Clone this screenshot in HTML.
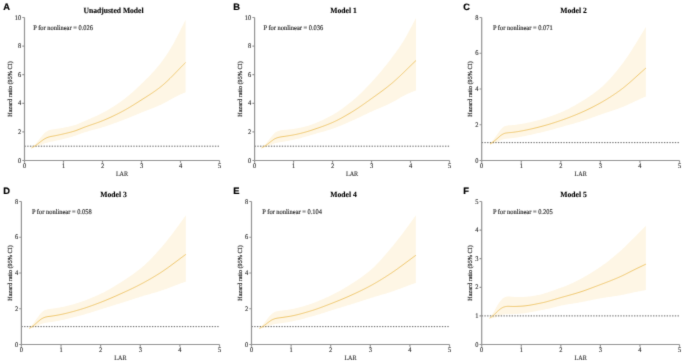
<!DOCTYPE html>
<html><head><meta charset="utf-8"><style>
html,body{margin:0;padding:0;background:#fff;width:685px;height:362px;overflow:hidden}
svg{display:block}
text{fill:#1c1c1c;stroke:#1c1c1c;text-rendering:geometricPrecision}
.t{font-family:"Liberation Serif",serif;font-size:7.0px;stroke-width:0.1px}
.lar{font-family:"Liberation Serif",serif;font-size:6.8px;stroke-width:0.1px}
.yl{font-family:"Liberation Serif",serif;font-size:6.2px;stroke-width:0.18px}
.pn{font-family:"Liberation Serif",serif;font-size:7.0px;stroke-width:0.14px}
.ti{font-family:"Liberation Serif",serif;font-size:8.0px;font-weight:bold;stroke-width:0.12px;fill:#000;stroke:#000}
.lt{font-family:"Liberation Sans",sans-serif;font-size:9.3px;font-weight:bold;stroke-width:0.2px;fill:#000;stroke:#000}
</style></head><body>
<svg width="685" height="362" viewBox="0 0 685 362"><defs><filter id="bl" x="0" y="0" width="685" height="362" filterUnits="userSpaceOnUse" color-interpolation-filters="sRGB"><feConvolveMatrix order="3" kernelMatrix="0.0113 0.0838 0.0113 0.0838 0.6193 0.0838 0.0113 0.0838 0.0113" edgeMode="none"/></filter></defs><g filter="url(#bl)"><rect width="685" height="362" fill="#fff"/><g><polygon points="31.52,147.92 32.49,146.99 33.46,146.03 34.43,145.02 35.4,143.98 36.36,142.9 37.33,141.74 38.3,140.52 39.27,139.26 40.24,138.04 41.21,136.88 42.18,135.71 43.15,134.56 44.12,133.5 45.08,132.61 46.05,131.88 47.02,131.25 47.99,130.71 48.96,130.3 49.93,129.97 50.9,129.72 51.87,129.55 52.84,129.41 53.8,129.29 54.77,129.17 55.74,129.02 56.71,128.85 57.68,128.69 58.65,128.54 59.62,128.38 60.59,128.22 61.55,128.06 62.52,127.88 63.49,127.69 64.46,127.49 65.43,127.29 66.4,127.09 67.37,126.89 68.34,126.69 69.31,126.48 70.27,126.27 71.24,126.04 72.21,125.8 73.18,125.55 74.15,125.27 75.12,124.98 76.09,124.65 77.06,124.29 78.03,123.92 78.99,123.52 79.96,123.11 80.93,122.7 81.9,122.27 82.87,121.84 83.84,121.41 84.81,120.98 85.78,120.56 86.75,120.14 87.71,119.72 88.68,119.3 89.65,118.88 90.62,118.47 91.59,118.04 92.56,117.62 93.53,117.19 94.5,116.76 95.47,116.32 96.43,115.88 97.4,115.43 98.37,114.97 99.34,114.5 100.31,114.03 101.28,113.54 102.25,113.04 103.22,112.53 104.19,112.01 105.15,111.48 106.12,110.94 107.09,110.39 108.06,109.83 109.03,109.27 110,108.69 110.97,108.11 111.94,107.51 112.9,106.91 113.87,106.29 114.84,105.67 115.81,105.04 116.78,104.39 117.75,103.74 118.72,103.08 119.69,102.41 120.66,101.73 121.62,101.04 122.59,100.33 123.56,99.61 124.53,98.88 125.5,98.12 126.47,97.35 127.44,96.56 128.41,95.76 129.38,94.94 130.34,94.11 131.31,93.27 132.28,92.41 133.25,91.54 134.22,90.66 135.19,89.77 136.16,88.88 137.13,87.97 138.1,87.06 139.06,86.14 140.03,85.21 141,84.29 141.97,83.35 142.94,82.42 143.91,81.47 144.88,80.53 145.85,79.57 146.82,78.61 147.78,77.63 148.75,76.65 149.72,75.65 150.69,74.64 151.66,73.61 152.63,72.57 153.6,71.51 154.57,70.43 155.54,69.33 156.5,68.21 157.47,67.06 158.44,65.89 159.41,64.7 160.38,63.48 161.35,62.23 162.32,60.94 163.29,59.62 164.25,58.26 165.22,56.87 166.19,55.44 167.16,53.97 168.13,52.47 169.1,50.93 170.07,49.35 171.04,47.74 172.01,46.09 172.97,44.41 173.94,42.67 174.91,40.9 175.88,39.08 176.85,37.22 177.82,35.33 178.79,33.42 179.76,31.49 180.73,29.55 181.69,27.59 182.66,25.63 183.63,23.68 184.6,21.74 185.57,19.82 185.57,92.3 184.6,92.69 183.63,93.09 182.66,93.5 181.69,93.92 180.73,94.34 179.76,94.77 178.79,95.22 177.82,95.68 176.85,96.15 175.88,96.63 174.91,97.12 173.94,97.63 172.97,98.16 172.01,98.69 171.04,99.24 170.07,99.78 169.1,100.33 168.13,100.88 167.16,101.42 166.19,101.96 165.22,102.48 164.25,103 163.29,103.5 162.32,103.99 161.35,104.46 160.38,104.91 159.41,105.35 158.44,105.78 157.47,106.2 156.5,106.61 155.54,107.02 154.57,107.42 153.6,107.81 152.63,108.2 151.66,108.58 150.69,108.96 149.72,109.34 148.75,109.71 147.78,110.09 146.82,110.46 145.85,110.84 144.88,111.22 143.91,111.6 142.94,111.98 141.97,112.37 141,112.77 140.03,113.17 139.06,113.56 138.1,113.96 137.13,114.36 136.16,114.76 135.19,115.16 134.22,115.56 133.25,115.96 132.28,116.36 131.31,116.76 130.34,117.16 129.38,117.55 128.41,117.94 127.44,118.33 126.47,118.72 125.5,119.1 124.53,119.48 123.56,119.86 122.59,120.23 121.62,120.6 120.66,120.97 119.69,121.33 118.72,121.69 117.75,122.05 116.78,122.41 115.81,122.76 114.84,123.12 113.87,123.46 112.9,123.81 111.94,124.15 110.97,124.49 110,124.83 109.03,125.16 108.06,125.49 107.09,125.81 106.12,126.13 105.15,126.45 104.19,126.76 103.22,127.07 102.25,127.37 101.28,127.67 100.31,127.95 99.34,128.23 98.37,128.5 97.4,128.77 96.43,129.03 95.47,129.29 94.5,129.55 93.53,129.8 92.56,130.06 91.59,130.32 90.62,130.58 89.65,130.84 88.68,131.11 87.71,131.39 86.75,131.67 85.78,131.96 84.81,132.26 83.84,132.57 82.87,132.91 81.9,133.25 80.93,133.61 79.96,133.97 78.99,134.33 78.03,134.69 77.06,135.05 76.09,135.39 75.12,135.73 74.15,136.04 73.18,136.34 72.21,136.63 71.24,136.91 70.27,137.19 69.31,137.45 68.34,137.71 67.37,137.97 66.4,138.22 65.43,138.46 64.46,138.7 63.49,138.94 62.52,139.18 61.55,139.42 60.59,139.66 59.62,139.9 58.65,140.14 57.68,140.37 56.71,140.6 55.74,140.82 54.77,141.03 53.8,141.23 52.84,141.43 51.87,141.62 50.9,141.8 49.93,141.98 48.96,142.17 47.99,142.39 47.02,142.66 46.05,142.97 45.08,143.3 44.12,143.62 43.15,143.99 42.18,144.38 41.21,144.79 40.24,145.2 39.27,145.61 38.3,146.01 37.33,146.4 36.36,146.75 35.4,147.03 34.43,147.26 33.46,147.46 32.49,147.67 31.52,147.92" fill="#fef6e5"/><line x1="24.5" y1="146.2" x2="219.5" y2="146.2" stroke="#505050" stroke-width="0.9" stroke-dasharray="1.36 1.36"/><polyline points="31.52,147.92 32.49,147.33 33.46,146.76 34.43,146.19 35.4,145.59 36.36,144.94 37.33,144.24 38.3,143.49 39.27,142.72 40.24,141.96 41.21,141.24 42.18,140.51 43.15,139.8 44.12,139.15 45.08,138.6 46.05,138.1 47.02,137.65 47.99,137.27 48.96,136.97 49.93,136.72 50.9,136.51 51.87,136.32 52.84,136.15 53.8,135.98 54.77,135.8 55.74,135.61 56.71,135.4 57.68,135.2 58.65,134.99 59.62,134.78 60.59,134.57 61.55,134.35 62.52,134.13 63.49,133.9 64.46,133.67 65.43,133.45 66.4,133.21 67.37,132.98 68.34,132.74 69.31,132.5 70.27,132.25 71.24,131.99 72.21,131.72 73.18,131.44 74.15,131.15 75.12,130.83 76.09,130.5 77.06,130.14 78.03,129.78 78.99,129.39 79.96,129.01 80.93,128.62 81.9,128.22 82.87,127.84 83.84,127.46 84.81,127.09 85.78,126.74 86.75,126.39 87.71,126.04 88.68,125.7 89.65,125.37 90.62,125.03 91.59,124.7 92.56,124.37 93.53,124.04 94.5,123.7 95.47,123.37 96.43,123.03 97.4,122.68 98.37,122.33 99.34,121.97 100.31,121.61 101.28,121.23 102.25,120.85 103.22,120.45 104.19,120.05 105.15,119.64 106.12,119.23 107.09,118.81 108.06,118.38 109.03,117.95 110,117.51 110.97,117.07 111.94,116.61 112.9,116.16 113.87,115.69 114.84,115.23 115.81,114.75 116.78,114.27 117.75,113.79 118.72,113.29 119.69,112.8 120.66,112.3 121.62,111.79 122.59,111.28 123.56,110.76 124.53,110.22 125.5,109.68 126.47,109.13 127.44,108.57 128.41,108.01 129.38,107.44 130.34,106.86 131.31,106.27 132.28,105.68 133.25,105.08 134.22,104.48 135.19,103.87 136.16,103.27 137.13,102.65 138.1,102.04 139.06,101.42 140.03,100.81 141,100.19 141.97,99.57 142.94,98.95 143.91,98.33 144.88,97.72 145.85,97.1 146.82,96.49 147.78,95.87 148.75,95.24 149.72,94.61 150.69,93.98 151.66,93.33 152.63,92.68 153.6,92.02 154.57,91.35 155.54,90.67 156.5,89.98 157.47,89.27 158.44,88.55 159.41,87.81 160.38,87.06 161.35,86.29 162.32,85.49 163.29,84.67 164.25,83.83 165.22,82.96 166.19,82.07 167.16,81.17 168.13,80.24 169.1,79.3 170.07,78.35 171.04,77.39 172.01,76.41 172.97,75.43 173.94,74.43 174.91,73.44 175.88,72.43 176.85,71.43 177.82,70.42 178.79,69.42 179.76,68.42 180.73,67.42 181.69,66.43 182.66,65.44 183.63,64.46 184.6,63.5 185.57,62.55" fill="none" stroke="#ecbf5a" stroke-width="0.85"/><path d="M24.5 17.5V160.5H219.5M22.3 160.5H24.5M22.3 131.9H24.5M22.3 103.3H24.5M22.3 74.7H24.5M22.3 46.1H24.5M22.3 17.5H24.5M24.5 160.5V162.7M63.5 160.5V162.7M102.5 160.5V162.7M141.5 160.5V162.7M180.5 160.5V162.7M219.5 160.5V162.7" fill="none" stroke="#949494" stroke-width="1.2"/><text transform="translate(21.2 162.6) scale(0.92 1)" text-anchor="end" class="t">0</text><text transform="translate(21.2 134) scale(0.92 1)" text-anchor="end" class="t">2</text><text transform="translate(21.2 105.4) scale(0.92 1)" text-anchor="end" class="t">4</text><text transform="translate(21.2 76.8) scale(0.92 1)" text-anchor="end" class="t">6</text><text transform="translate(21.2 48.2) scale(0.92 1)" text-anchor="end" class="t">8</text><text transform="translate(21.2 19.6) scale(0.92 1)" text-anchor="end" class="t">10</text><text transform="translate(24.5 168.2) scale(0.92 1)" text-anchor="middle" class="t">0</text><text transform="translate(63.5 168.2) scale(0.92 1)" text-anchor="middle" class="t">1</text><text transform="translate(102.5 168.2) scale(0.92 1)" text-anchor="middle" class="t">2</text><text transform="translate(141.5 168.2) scale(0.92 1)" text-anchor="middle" class="t">3</text><text transform="translate(180.5 168.2) scale(0.92 1)" text-anchor="middle" class="t">4</text><text transform="translate(219.5 168.2) scale(0.92 1)" text-anchor="middle" class="t">5</text><text transform="translate(122 175.8) scale(0.9 1)" text-anchor="middle" class="lar">LAR</text><text transform="translate(11.7 89) rotate(-90)" text-anchor="middle" class="yl">Hazard ratio (95% CI)</text><text transform="translate(113.5 12.9) scale(0.95 1)" text-anchor="middle" class="ti">Unadjusted Model</text><text transform="translate(33.2 29.9) scale(0.92 1)" class="pn">P for nonlinear = 0.026</text><text transform="translate(3.2 9.8)" class="lt">A</text></g><g><polygon points="261.62,147.92 262.59,146.99 263.56,146.02 264.53,145.02 265.5,143.97 266.47,142.89 267.44,141.73 268.41,140.49 269.38,139.24 270.35,138.01 271.32,136.85 272.3,135.66 273.27,134.48 274.24,133.43 275.21,132.61 276.18,131.97 277.15,131.45 278.12,131.01 279.09,130.67 280.06,130.41 281.03,130.21 282,130.08 282.97,129.99 283.95,129.92 284.92,129.84 285.89,129.74 286.86,129.63 287.83,129.54 288.8,129.45 289.77,129.36 290.74,129.27 291.71,129.17 292.68,129.05 293.65,128.91 294.62,128.75 295.6,128.59 296.57,128.42 297.54,128.25 298.51,128.06 299.48,127.87 300.45,127.67 301.42,127.47 302.39,127.25 303.36,127.03 304.33,126.8 305.3,126.55 306.27,126.29 307.25,126.01 308.22,125.72 309.19,125.41 310.16,125.09 311.13,124.75 312.1,124.41 313.07,124.04 314.04,123.67 315.01,123.29 315.98,122.89 316.95,122.5 317.92,122.09 318.89,121.68 319.87,121.26 320.84,120.83 321.81,120.4 322.78,119.96 323.75,119.51 324.72,119.05 325.69,118.58 326.66,118.1 327.63,117.61 328.6,117.11 329.57,116.6 330.54,116.08 331.52,115.55 332.49,115 333.46,114.44 334.43,113.87 335.4,113.28 336.37,112.67 337.34,112.05 338.31,111.41 339.28,110.76 340.25,110.09 341.22,109.42 342.19,108.72 343.17,108.02 344.14,107.31 345.11,106.58 346.08,105.84 347.05,105.1 348.02,104.34 348.99,103.58 349.96,102.8 350.93,102.02 351.9,101.24 352.87,100.44 353.84,99.62 354.82,98.78 355.79,97.92 356.76,97.05 357.73,96.16 358.7,95.25 359.67,94.33 360.64,93.4 361.61,92.45 362.58,91.49 363.55,90.51 364.52,89.53 365.49,88.54 366.47,87.53 367.44,86.52 368.41,85.5 369.38,84.48 370.35,83.45 371.32,82.41 372.29,81.37 373.26,80.32 374.23,79.25 375.2,78.17 376.17,77.07 377.14,75.96 378.12,74.84 379.09,73.7 380.06,72.55 381.03,71.39 382,70.22 382.97,69.03 383.94,67.83 384.91,66.62 385.88,65.4 386.85,64.17 387.82,62.92 388.79,61.67 389.76,60.42 390.74,59.15 391.71,57.88 392.68,56.6 393.65,55.31 394.62,54.01 395.59,52.69 396.56,51.36 397.53,50.01 398.5,48.63 399.47,47.23 400.44,45.79 401.41,44.33 402.39,42.83 403.36,41.28 404.33,39.67 405.3,38.02 406.27,36.31 407.24,34.56 408.21,32.77 409.18,30.96 410.15,29.11 411.12,27.25 412.09,25.38 413.06,23.51 414.04,21.64 415.01,19.78 415.98,17.94 415.98,90.41 415.01,90.79 414.04,91.17 413.06,91.55 412.09,91.94 411.12,92.33 410.15,92.72 409.18,93.13 408.21,93.55 407.24,93.99 406.27,94.44 405.3,94.91 404.33,95.41 403.36,95.92 402.39,96.46 401.41,97.02 400.44,97.58 399.47,98.16 398.5,98.74 397.53,99.31 396.56,99.89 395.59,100.46 394.62,101.02 393.65,101.57 392.68,102.1 391.71,102.62 390.74,103.12 389.76,103.6 388.79,104.06 387.82,104.52 386.85,104.96 385.88,105.4 384.91,105.82 383.94,106.24 382.97,106.65 382,107.06 381.03,107.47 380.06,107.88 379.09,108.28 378.12,108.69 377.14,109.09 376.17,109.51 375.2,109.92 374.23,110.34 373.26,110.77 372.29,111.21 371.32,111.65 370.35,112.1 369.38,112.55 368.41,113.01 367.44,113.47 366.47,113.93 365.49,114.39 364.52,114.86 363.55,115.32 362.58,115.78 361.61,116.25 360.64,116.71 359.67,117.17 358.7,117.63 357.73,118.09 356.76,118.55 355.79,119 354.82,119.45 353.84,119.89 352.87,120.33 351.9,120.76 350.93,121.19 349.96,121.62 348.99,122.05 348.02,122.48 347.05,122.91 346.08,123.33 345.11,123.75 344.14,124.17 343.17,124.59 342.19,125 341.22,125.41 340.25,125.81 339.28,126.2 338.31,126.59 337.34,126.97 336.37,127.35 335.4,127.71 334.43,128.07 333.46,128.42 332.49,128.75 331.52,129.08 330.54,129.4 329.57,129.71 328.6,130.01 327.63,130.31 326.66,130.6 325.69,130.89 324.72,131.17 323.75,131.45 322.78,131.72 321.81,132 320.84,132.27 319.87,132.54 318.89,132.81 317.92,133.08 316.95,133.36 315.98,133.63 315.01,133.91 314.04,134.19 313.07,134.48 312.1,134.77 311.13,135.07 310.16,135.36 309.19,135.66 308.22,135.95 307.25,136.25 306.27,136.53 305.3,136.81 304.33,137.09 303.36,137.36 302.39,137.62 301.42,137.88 300.45,138.13 299.48,138.38 298.51,138.63 297.54,138.86 296.57,139.09 295.6,139.32 294.62,139.53 293.65,139.74 292.68,139.94 291.71,140.13 290.74,140.33 289.77,140.52 288.8,140.71 287.83,140.9 286.86,141.08 285.89,141.26 284.92,141.44 283.95,141.61 282.97,141.78 282,141.94 281.03,142.1 280.06,142.25 279.09,142.4 278.12,142.57 277.15,142.78 276.18,143.03 275.21,143.31 274.24,143.59 273.27,143.95 272.3,144.36 271.32,144.78 270.35,145.19 269.38,145.6 268.41,146.01 267.44,146.4 266.47,146.74 265.5,147.03 264.53,147.26 263.56,147.46 262.59,147.67 261.62,147.92" fill="#fef6e5"/><line x1="254.6" y1="146.2" x2="449.5" y2="146.2" stroke="#505050" stroke-width="0.9" stroke-dasharray="1.36 1.36"/><polyline points="261.62,147.92 262.59,147.33 263.56,146.76 264.53,146.18 265.5,145.58 266.47,144.93 267.44,144.23 268.41,143.47 269.38,142.7 270.35,141.94 271.32,141.22 272.3,140.48 273.27,139.75 274.24,139.11 275.21,138.6 276.18,138.18 277.15,137.81 278.12,137.5 279.09,137.26 280.06,137.06 281.03,136.89 282,136.74 282.97,136.6 283.95,136.47 284.92,136.33 285.89,136.17 286.86,136.02 287.83,135.86 288.8,135.71 289.77,135.56 290.74,135.4 291.71,135.24 292.68,135.07 293.65,134.89 294.62,134.7 295.6,134.5 296.57,134.3 297.54,134.08 298.51,133.86 299.48,133.64 300.45,133.4 301.42,133.16 302.39,132.92 303.36,132.67 304.33,132.41 305.3,132.14 306.27,131.87 307.25,131.58 308.22,131.28 309.19,130.98 310.16,130.66 311.13,130.35 312.1,130.03 313.07,129.7 314.04,129.37 315.01,129.04 315.98,128.71 316.95,128.38 317.92,128.05 318.89,127.71 319.87,127.38 320.84,127.04 321.81,126.69 322.78,126.34 323.75,125.99 324.72,125.63 325.69,125.27 326.66,124.89 327.63,124.52 328.6,124.13 329.57,123.73 330.54,123.33 331.52,122.92 332.49,122.49 333.46,122.06 334.43,121.61 335.4,121.15 336.37,120.68 337.34,120.2 338.31,119.7 339.28,119.2 340.25,118.68 341.22,118.16 342.19,117.63 343.17,117.09 344.14,116.54 345.11,115.99 346.08,115.43 347.05,114.86 348.02,114.29 348.99,113.72 349.96,113.14 350.93,112.55 351.9,111.97 352.87,111.38 353.84,110.78 354.82,110.16 355.79,109.54 356.76,108.91 357.73,108.26 358.7,107.61 359.67,106.96 360.64,106.29 361.61,105.62 362.58,104.95 363.55,104.27 364.52,103.58 365.49,102.9 366.47,102.21 367.44,101.51 368.41,100.82 369.38,100.13 370.35,99.43 371.32,98.74 372.29,98.05 373.26,97.35 374.23,96.66 375.2,95.97 376.17,95.27 377.14,94.58 378.12,93.88 379.09,93.18 380.06,92.47 381.03,91.76 382,91.04 382.97,90.32 383.94,89.59 384.91,88.85 385.88,88.11 386.85,87.35 387.82,86.59 388.79,85.82 389.76,85.03 390.74,84.24 391.71,83.43 392.68,82.61 393.65,81.77 394.62,80.91 395.59,80.05 396.56,79.17 397.53,78.28 398.5,77.38 399.47,76.47 400.44,75.55 401.41,74.62 402.39,73.69 403.36,72.76 404.33,71.82 405.3,70.87 406.27,69.92 407.24,68.98 408.21,68.03 409.18,67.08 410.15,66.13 411.12,65.19 412.09,64.25 413.06,63.31 414.04,62.38 415.01,61.46 415.98,60.54" fill="none" stroke="#ecbf5a" stroke-width="0.85"/><path d="M254.6 17.5V160.5H449.5M252.4 160.5H254.6M252.4 131.9H254.6M252.4 103.3H254.6M252.4 74.7H254.6M252.4 46.1H254.6M252.4 17.5H254.6M254.6 160.5V162.7M293.58 160.5V162.7M332.56 160.5V162.7M371.54 160.5V162.7M410.52 160.5V162.7M449.5 160.5V162.7" fill="none" stroke="#949494" stroke-width="1.2"/><text transform="translate(251.3 162.6) scale(0.92 1)" text-anchor="end" class="t">0</text><text transform="translate(251.3 134) scale(0.92 1)" text-anchor="end" class="t">2</text><text transform="translate(251.3 105.4) scale(0.92 1)" text-anchor="end" class="t">4</text><text transform="translate(251.3 76.8) scale(0.92 1)" text-anchor="end" class="t">6</text><text transform="translate(251.3 48.2) scale(0.92 1)" text-anchor="end" class="t">8</text><text transform="translate(251.3 19.6) scale(0.92 1)" text-anchor="end" class="t">10</text><text transform="translate(254.6 168.2) scale(0.92 1)" text-anchor="middle" class="t">0</text><text transform="translate(293.58 168.2) scale(0.92 1)" text-anchor="middle" class="t">1</text><text transform="translate(332.56 168.2) scale(0.92 1)" text-anchor="middle" class="t">2</text><text transform="translate(371.54 168.2) scale(0.92 1)" text-anchor="middle" class="t">3</text><text transform="translate(410.52 168.2) scale(0.92 1)" text-anchor="middle" class="t">4</text><text transform="translate(449.5 168.2) scale(0.92 1)" text-anchor="middle" class="t">5</text><text transform="translate(352.05 175.8) scale(0.9 1)" text-anchor="middle" class="lar">LAR</text><text transform="translate(241.7 89) rotate(-90)" text-anchor="middle" class="yl">Hazard ratio (95% CI)</text><text transform="translate(343.5 12.9) scale(0.95 1)" text-anchor="middle" class="ti">Model 1</text><text transform="translate(263.5 29.9) scale(0.92 1)" class="pn">P for nonlinear = 0.036</text><text transform="translate(233.2 9.8)" class="lt">B</text></g><g><polygon points="490.01,143.87 490.99,142.67 491.97,141.43 492.95,140.15 493.93,138.88 494.91,137.55 495.89,136.18 496.87,134.79 497.85,133.45 498.83,132.14 499.81,130.76 500.79,129.46 501.77,128.43 502.75,127.56 503.73,126.83 504.71,126.27 505.69,125.9 506.67,125.66 507.65,125.48 508.63,125.37 509.61,125.29 510.59,125.23 511.57,125.18 512.55,125.1 513.53,125 514.51,124.89 515.5,124.77 516.48,124.64 517.46,124.51 518.44,124.37 519.42,124.23 520.4,124.08 521.38,123.91 522.36,123.74 523.34,123.56 524.32,123.38 525.3,123.2 526.28,123.01 527.26,122.81 528.24,122.61 529.22,122.4 530.2,122.19 531.18,121.97 532.16,121.74 533.14,121.51 534.12,121.28 535.1,121.04 536.08,120.79 537.06,120.53 538.04,120.27 539.02,120 540,119.73 540.98,119.45 541.96,119.16 542.94,118.86 543.92,118.56 544.9,118.25 545.88,117.94 546.86,117.62 547.84,117.29 548.83,116.96 549.81,116.62 550.79,116.27 551.77,115.92 552.75,115.56 553.73,115.2 554.71,114.83 555.69,114.46 556.67,114.08 557.65,113.7 558.63,113.31 559.61,112.91 560.59,112.51 561.57,112.11 562.55,111.69 563.53,111.25 564.51,110.8 565.49,110.34 566.47,109.87 567.45,109.39 568.43,108.89 569.41,108.39 570.39,107.87 571.37,107.34 572.35,106.81 573.33,106.27 574.31,105.71 575.29,105.16 576.27,104.59 577.25,104.02 578.23,103.44 579.21,102.86 580.19,102.27 581.17,101.69 582.16,101.09 583.14,100.49 584.12,99.88 585.1,99.26 586.08,98.63 587.06,97.99 588.04,97.35 589.02,96.69 590,96.03 590.98,95.35 591.96,94.66 592.94,93.96 593.92,93.25 594.9,92.52 595.88,91.79 596.86,91.03 597.84,90.27 598.82,89.48 599.8,88.68 600.78,87.87 601.76,87.02 602.74,86.15 603.72,85.24 604.7,84.31 605.68,83.35 606.66,82.36 607.64,81.35 608.62,80.31 609.6,79.25 610.58,78.16 611.56,77.06 612.54,75.93 613.52,74.78 614.5,73.61 615.48,72.43 616.47,71.24 617.45,70.02 618.43,68.8 619.41,67.57 620.39,66.33 621.37,65.07 622.35,63.77 623.33,62.45 624.31,61.09 625.29,59.71 626.27,58.31 627.25,56.88 628.23,55.43 629.21,53.95 630.19,52.46 631.17,50.95 632.15,49.42 633.13,47.87 634.11,46.31 635.09,44.74 636.07,43.15 637.05,41.55 638.03,39.95 639.01,38.34 639.99,36.72 640.97,35.1 641.95,33.47 642.93,31.85 643.91,30.22 644.89,28.6 645.87,26.98 645.87,96.54 644.89,96.94 643.91,97.35 642.93,97.76 641.95,98.19 640.97,98.62 639.99,99.06 639.01,99.5 638.03,99.95 637.05,100.4 636.07,100.86 635.09,101.31 634.11,101.77 633.13,102.23 632.15,102.69 631.17,103.15 630.19,103.6 629.21,104.05 628.23,104.5 627.25,104.95 626.27,105.38 625.29,105.82 624.31,106.24 623.33,106.66 622.35,107.07 621.37,107.46 620.39,107.85 619.41,108.22 618.43,108.59 617.45,108.94 616.47,109.29 615.48,109.62 614.5,109.96 613.52,110.28 612.54,110.61 611.56,110.93 610.58,111.25 609.6,111.56 608.62,111.88 607.64,112.2 606.66,112.52 605.68,112.84 604.7,113.17 603.72,113.5 602.74,113.84 601.76,114.18 600.78,114.53 599.8,114.89 598.82,115.24 597.84,115.6 596.86,115.96 595.88,116.31 594.9,116.67 593.92,117.02 592.94,117.37 591.96,117.72 590.98,118.07 590,118.41 589.02,118.75 588.04,119.09 587.06,119.43 586.08,119.76 585.1,120.09 584.12,120.41 583.14,120.73 582.16,121.05 581.17,121.36 580.19,121.67 579.21,121.97 578.23,122.26 577.25,122.55 576.27,122.84 575.29,123.12 574.31,123.4 573.33,123.68 572.35,123.95 571.37,124.23 570.39,124.5 569.41,124.77 568.43,125.04 567.45,125.31 566.47,125.58 565.49,125.85 564.51,126.12 563.53,126.39 562.55,126.67 561.57,126.94 560.59,127.22 559.61,127.5 558.63,127.78 557.65,128.06 556.67,128.34 555.69,128.61 554.71,128.89 553.73,129.16 552.75,129.43 551.77,129.7 550.79,129.96 549.81,130.22 548.83,130.48 547.84,130.74 546.86,130.99 545.88,131.24 544.9,131.49 543.92,131.73 542.94,131.97 541.96,132.2 540.98,132.43 540,132.65 539.02,132.88 538.04,133.11 537.06,133.34 536.08,133.57 535.1,133.79 534.12,134.02 533.14,134.24 532.16,134.46 531.18,134.68 530.2,134.9 529.22,135.11 528.24,135.33 527.26,135.53 526.28,135.74 525.3,135.94 524.32,136.13 523.34,136.32 522.36,136.51 521.38,136.69 520.4,136.87 519.42,137.04 518.44,137.22 517.46,137.38 516.48,137.55 515.5,137.7 514.51,137.85 513.53,137.99 512.55,138.12 511.57,138.23 510.59,138.33 509.61,138.43 508.63,138.52 507.65,138.61 506.67,138.71 505.69,138.81 504.71,138.95 503.73,139.19 502.75,139.51 501.77,139.85 500.79,140.23 499.81,140.75 498.83,141.31 497.85,141.81 496.87,142.26 495.89,142.68 494.91,143.06 493.93,143.41 492.95,143.7 491.97,143.89 490.99,144.05 490.01,144.24" fill="#fef6e5"/><line x1="481.7" y1="142.62" x2="679.5" y2="142.62" stroke="#505050" stroke-width="0.9" stroke-dasharray="1.36 1.36"/><polyline points="490.01,144.06 490.99,143.38 491.97,142.7 492.95,142.01 493.93,141.28 494.91,140.49 495.89,139.68 496.87,138.85 497.85,138.01 498.83,137.17 499.81,136.26 500.79,135.42 501.77,134.77 502.75,134.21 503.73,133.72 504.71,133.34 505.69,133.1 506.67,132.94 507.65,132.82 508.63,132.71 509.61,132.62 510.59,132.54 511.57,132.45 512.55,132.35 513.53,132.23 514.51,132.1 515.5,131.96 516.48,131.81 517.46,131.66 518.44,131.5 519.42,131.33 520.4,131.16 521.38,130.98 522.36,130.8 523.34,130.62 524.32,130.43 525.3,130.23 526.28,130.03 527.26,129.82 528.24,129.61 529.22,129.4 530.2,129.18 531.18,128.96 532.16,128.73 533.14,128.5 534.12,128.27 535.1,128.03 536.08,127.8 537.06,127.55 538.04,127.31 539.02,127.06 540,126.81 540.98,126.55 541.96,126.29 542.94,126.03 543.92,125.76 544.9,125.49 545.88,125.21 546.86,124.93 547.84,124.64 548.83,124.35 549.81,124.05 550.79,123.75 551.77,123.44 552.75,123.13 553.73,122.82 554.71,122.5 555.69,122.18 556.67,121.86 557.65,121.54 558.63,121.21 559.61,120.87 560.59,120.54 561.57,120.2 562.55,119.86 563.53,119.51 564.51,119.16 565.49,118.81 566.47,118.45 567.45,118.09 568.43,117.72 569.41,117.35 570.39,116.97 571.37,116.59 572.35,116.2 573.33,115.81 574.31,115.42 575.29,115.02 576.27,114.61 577.25,114.21 578.23,113.79 579.21,113.37 580.19,112.95 581.17,112.52 582.16,112.09 583.14,111.65 584.12,111.2 585.1,110.75 586.08,110.3 587.06,109.83 588.04,109.36 589.02,108.89 590,108.41 590.98,107.92 591.96,107.43 592.94,106.93 593.92,106.43 594.9,105.91 595.88,105.4 596.86,104.87 597.84,104.34 598.82,103.81 599.8,103.27 600.78,102.72 601.76,102.16 602.74,101.6 603.72,101.03 604.7,100.45 605.68,99.87 606.66,99.27 607.64,98.67 608.62,98.06 609.6,97.44 610.58,96.82 611.56,96.18 612.54,95.54 613.52,94.89 614.5,94.23 615.48,93.56 616.47,92.89 617.45,92.2 618.43,91.5 619.41,90.8 620.39,90.09 621.37,89.35 622.35,88.61 623.33,87.84 624.31,87.06 625.29,86.26 626.27,85.45 627.25,84.63 628.23,83.79 629.21,82.95 630.19,82.09 631.17,81.23 632.15,80.36 633.13,79.49 634.11,78.61 635.09,77.73 636.07,76.84 637.05,75.95 638.03,75.06 639.01,74.18 639.99,73.29 640.97,72.41 641.95,71.53 642.93,70.66 643.91,69.79 644.89,68.94 645.87,68.09" fill="none" stroke="#ecbf5a" stroke-width="0.85"/><path d="M481.7 17.5V160.5H679.5M479.5 160.5H481.7M479.5 124.75H481.7M479.5 89H481.7M479.5 53.25H481.7M479.5 17.5H481.7M481.7 160.5V162.7M521.26 160.5V162.7M560.82 160.5V162.7M600.38 160.5V162.7M639.94 160.5V162.7M679.5 160.5V162.7" fill="none" stroke="#949494" stroke-width="1.2"/><text transform="translate(478.4 162.6) scale(0.92 1)" text-anchor="end" class="t">0</text><text transform="translate(478.4 126.85) scale(0.92 1)" text-anchor="end" class="t">2</text><text transform="translate(478.4 91.1) scale(0.92 1)" text-anchor="end" class="t">4</text><text transform="translate(478.4 55.35) scale(0.92 1)" text-anchor="end" class="t">6</text><text transform="translate(478.4 19.6) scale(0.92 1)" text-anchor="end" class="t">8</text><text transform="translate(481.7 168.2) scale(0.92 1)" text-anchor="middle" class="t">0</text><text transform="translate(521.26 168.2) scale(0.92 1)" text-anchor="middle" class="t">1</text><text transform="translate(560.82 168.2) scale(0.92 1)" text-anchor="middle" class="t">2</text><text transform="translate(600.38 168.2) scale(0.92 1)" text-anchor="middle" class="t">3</text><text transform="translate(639.94 168.2) scale(0.92 1)" text-anchor="middle" class="t">4</text><text transform="translate(679.5 168.2) scale(0.92 1)" text-anchor="middle" class="t">5</text><text transform="translate(580.6 175.8) scale(0.9 1)" text-anchor="middle" class="lar">LAR</text><text transform="translate(471.7 89) rotate(-90)" text-anchor="middle" class="yl">Hazard ratio (95% CI)</text><text transform="translate(573.5 12.9) scale(0.95 1)" text-anchor="middle" class="ti">Model 2</text><text transform="translate(492.9 29.9) scale(0.92 1)" class="pn">P for nonlinear = 0.071</text><text transform="translate(463.2 9.8)" class="lt">C</text></g><g><polygon points="29.32,328.41 30.31,327.28 31.29,326.08 32.28,324.84 33.26,323.58 34.25,322.25 35.23,320.83 36.21,319.37 37.2,317.96 38.18,316.65 39.17,315.37 40.15,314.1 41.14,312.94 42.12,312.01 43.1,311.25 44.09,310.61 45.07,310.07 46.06,309.68 47.04,309.4 48.03,309.2 49.01,309.05 49.99,308.94 50.98,308.83 51.96,308.73 52.95,308.6 53.93,308.45 54.92,308.3 55.9,308.15 56.88,308 57.87,307.84 58.85,307.67 59.84,307.5 60.82,307.31 61.8,307.1 62.79,306.9 63.77,306.68 64.76,306.46 65.74,306.23 66.73,306 67.71,305.75 68.69,305.51 69.68,305.25 70.66,304.99 71.65,304.73 72.63,304.45 73.62,304.17 74.6,303.89 75.58,303.6 76.57,303.3 77.55,302.99 78.54,302.68 79.52,302.36 80.51,302.03 81.49,301.69 82.47,301.35 83.46,301 84.44,300.64 85.43,300.27 86.41,299.9 87.4,299.52 88.38,299.13 89.36,298.74 90.35,298.34 91.33,297.93 92.32,297.52 93.3,297.11 94.29,296.69 95.27,296.26 96.25,295.83 97.24,295.39 98.22,294.95 99.21,294.5 100.19,294.05 101.18,293.59 102.16,293.12 103.14,292.64 104.13,292.14 105.11,291.63 106.1,291.1 107.08,290.57 108.07,290.02 109.05,289.46 110.03,288.9 111.02,288.32 112,287.74 112.99,287.15 113.97,286.55 114.96,285.95 115.94,285.34 116.92,284.73 117.91,284.12 118.89,283.5 119.88,282.89 120.86,282.27 121.85,281.65 122.83,281.03 123.81,280.4 124.8,279.77 125.78,279.14 126.77,278.49 127.75,277.84 128.74,277.19 129.72,276.52 130.7,275.85 131.69,275.17 132.67,274.48 133.66,273.78 134.64,273.06 135.63,272.34 136.61,271.6 137.59,270.86 138.58,270.09 139.56,269.32 140.55,268.52 141.53,267.71 142.52,266.87 143.5,266.02 144.48,265.13 145.47,264.23 146.45,263.31 147.44,262.37 148.42,261.4 149.4,260.42 150.39,259.43 151.37,258.42 152.36,257.39 153.34,256.35 154.33,255.29 155.31,254.22 156.29,253.15 157.28,252.06 158.26,250.97 159.25,249.87 160.23,248.76 161.22,247.64 162.2,246.51 163.18,245.35 164.17,244.17 165.15,242.98 166.14,241.77 167.12,240.54 168.11,239.3 169.09,238.05 170.07,236.78 171.06,235.5 172.04,234.21 173.03,232.9 174.01,231.59 175,230.27 175.98,228.94 176.96,227.6 177.95,226.25 178.93,224.9 179.92,223.55 180.9,222.19 181.89,220.83 182.87,219.47 183.85,218.1 184.84,216.74 185.82,215.37 185.82,281.65 184.84,281.98 183.85,282.31 182.87,282.66 181.89,283.01 180.9,283.36 179.92,283.72 178.93,284.08 177.95,284.45 176.96,284.82 175.98,285.19 175,285.56 174.01,285.93 173.03,286.31 172.04,286.68 171.06,287.05 170.07,287.42 169.09,287.8 168.11,288.16 167.12,288.53 166.14,288.89 165.15,289.25 164.17,289.6 163.18,289.94 162.2,290.29 161.22,290.62 160.23,290.95 159.25,291.26 158.26,291.58 157.28,291.88 156.29,292.18 155.31,292.47 154.33,292.76 153.34,293.04 152.36,293.32 151.37,293.6 150.39,293.88 149.4,294.16 148.42,294.44 147.44,294.72 146.45,295 145.47,295.29 144.48,295.57 143.5,295.87 142.52,296.17 141.53,296.47 140.55,296.78 139.56,297.1 138.58,297.42 137.59,297.73 136.61,298.05 135.63,298.37 134.64,298.68 133.66,299 132.67,299.31 131.69,299.63 130.7,299.94 129.72,300.26 128.74,300.57 127.75,300.89 126.77,301.2 125.78,301.51 124.8,301.83 123.81,302.14 122.83,302.45 121.85,302.76 120.86,303.08 119.88,303.39 118.89,303.7 117.91,304.01 116.92,304.31 115.94,304.62 114.96,304.92 113.97,305.22 112.99,305.53 112,305.83 111.02,306.13 110.03,306.43 109.05,306.74 108.07,307.04 107.08,307.34 106.1,307.65 105.11,307.96 104.13,308.26 103.14,308.57 102.16,308.89 101.18,309.2 100.19,309.51 99.21,309.83 98.22,310.14 97.24,310.46 96.25,310.78 95.27,311.09 94.29,311.4 93.3,311.71 92.32,312.02 91.33,312.33 90.35,312.63 89.36,312.94 88.38,313.23 87.4,313.53 86.41,313.82 85.43,314.11 84.44,314.39 83.46,314.66 82.47,314.94 81.49,315.2 80.51,315.47 79.52,315.73 78.54,315.99 77.55,316.25 76.57,316.51 75.58,316.77 74.6,317.03 73.62,317.29 72.63,317.55 71.65,317.8 70.66,318.05 69.68,318.3 68.69,318.54 67.71,318.78 66.73,319.02 65.74,319.25 64.76,319.48 63.77,319.7 62.79,319.91 61.8,320.12 60.82,320.32 59.84,320.52 58.85,320.71 57.87,320.9 56.88,321.08 55.9,321.26 54.92,321.43 53.93,321.59 52.95,321.75 51.96,321.9 50.98,322.04 49.99,322.17 49.01,322.3 48.03,322.43 47.04,322.56 46.06,322.71 45.07,322.88 44.09,323.12 43.1,323.42 42.12,323.73 41.14,324.08 40.15,324.53 39.17,325.02 38.18,325.51 37.2,325.98 36.21,326.46 35.23,326.92 34.25,327.34 33.26,327.69 32.28,327.94 31.29,328.1 30.31,328.23 29.32,328.41" fill="#fef6e5"/><line x1="21.4" y1="326.62" x2="219.5" y2="326.62" stroke="#505050" stroke-width="0.9" stroke-dasharray="1.36 1.36"/><polyline points="29.32,328.41 30.31,327.76 31.29,327.12 32.28,326.46 33.26,325.75 34.25,324.96 35.23,324.1 36.21,323.21 37.2,322.33 38.18,321.5 39.17,320.68 40.15,319.86 41.14,319.11 42.12,318.52 43.1,318.02 44.09,317.58 45.07,317.22 46.06,316.95 47.04,316.75 48.03,316.59 49.01,316.45 49.99,316.32 50.98,316.2 51.96,316.07 52.95,315.92 53.93,315.76 54.92,315.6 55.9,315.43 56.88,315.26 57.87,315.08 58.85,314.9 59.84,314.71 60.82,314.51 61.8,314.3 62.79,314.09 63.77,313.87 64.76,313.65 65.74,313.41 66.73,313.18 67.71,312.93 68.69,312.69 69.68,312.43 70.66,312.18 71.65,311.91 72.63,311.65 73.62,311.38 74.6,311.1 75.58,310.82 76.57,310.54 77.55,310.26 78.54,309.97 79.52,309.68 80.51,309.38 81.49,309.09 82.47,308.78 83.46,308.47 84.44,308.16 85.43,307.84 86.41,307.51 87.4,307.18 88.38,306.84 89.36,306.49 90.35,306.15 91.33,305.8 92.32,305.44 93.3,305.08 94.29,304.72 95.27,304.35 96.25,303.98 97.24,303.61 98.22,303.24 99.21,302.86 100.19,302.49 101.18,302.11 102.16,301.72 103.14,301.34 104.13,300.94 105.11,300.54 106.1,300.14 107.08,299.73 108.07,299.32 109.05,298.91 110.03,298.49 111.02,298.07 112,297.65 112.99,297.22 113.97,296.79 114.96,296.36 115.94,295.93 116.92,295.49 117.91,295.05 118.89,294.61 119.88,294.17 120.86,293.73 121.85,293.29 122.83,292.84 123.81,292.39 124.8,291.94 125.78,291.49 126.77,291.04 127.75,290.58 128.74,290.12 129.72,289.66 130.7,289.19 131.69,288.72 132.67,288.25 133.66,287.77 134.64,287.29 135.63,286.8 136.61,286.31 137.59,285.81 138.58,285.31 139.56,284.8 140.55,284.29 141.53,283.77 142.52,283.25 143.5,282.72 144.48,282.19 145.47,281.65 146.45,281.1 147.44,280.56 148.42,280 149.4,279.44 150.39,278.88 151.37,278.31 152.36,277.73 153.34,277.15 154.33,276.56 155.31,275.96 156.29,275.36 157.28,274.76 158.26,274.14 159.25,273.52 160.23,272.9 161.22,272.26 162.2,271.61 163.18,270.95 164.17,270.28 165.15,269.6 166.14,268.92 167.12,268.22 168.11,267.52 169.09,266.81 170.07,266.09 171.06,265.37 172.04,264.64 173.03,263.91 174.01,263.18 175,262.45 175.98,261.71 176.96,260.97 177.95,260.23 178.93,259.5 179.92,258.76 180.9,258.03 181.89,257.29 182.87,256.57 183.85,255.84 184.84,255.12 185.82,254.41" fill="none" stroke="#ecbf5a" stroke-width="0.85"/><path d="M21.4 201.5V344.5H219.5M19.2 344.5H21.4M19.2 308.75H21.4M19.2 273H21.4M19.2 237.25H21.4M19.2 201.5H21.4M21.4 344.5V346.7M61.02 344.5V346.7M100.64 344.5V346.7M140.26 344.5V346.7M179.88 344.5V346.7M219.5 344.5V346.7" fill="none" stroke="#949494" stroke-width="1.2"/><text transform="translate(18.1 346.6) scale(0.92 1)" text-anchor="end" class="t">0</text><text transform="translate(18.1 310.85) scale(0.92 1)" text-anchor="end" class="t">2</text><text transform="translate(18.1 275.1) scale(0.92 1)" text-anchor="end" class="t">4</text><text transform="translate(18.1 239.35) scale(0.92 1)" text-anchor="end" class="t">6</text><text transform="translate(18.1 203.6) scale(0.92 1)" text-anchor="end" class="t">8</text><text transform="translate(21.4 352.2) scale(0.92 1)" text-anchor="middle" class="t">0</text><text transform="translate(61.02 352.2) scale(0.92 1)" text-anchor="middle" class="t">1</text><text transform="translate(100.64 352.2) scale(0.92 1)" text-anchor="middle" class="t">2</text><text transform="translate(140.26 352.2) scale(0.92 1)" text-anchor="middle" class="t">3</text><text transform="translate(179.88 352.2) scale(0.92 1)" text-anchor="middle" class="t">4</text><text transform="translate(219.5 352.2) scale(0.92 1)" text-anchor="middle" class="t">5</text><text transform="translate(120.45 359.8) scale(0.9 1)" text-anchor="middle" class="lar">LAR</text><text transform="translate(11.7 273) rotate(-90)" text-anchor="middle" class="yl">Hazard ratio (95% CI)</text><text transform="translate(113.5 196.9) scale(0.95 1)" text-anchor="middle" class="ti">Model 3</text><text transform="translate(31.9 213.9) scale(0.92 1)" class="pn">P for nonlinear = 0.058</text><text transform="translate(3.2 193.8)" class="lt">D</text></g><g><polygon points="259.42,328.41 260.4,327.37 261.39,326.27 262.37,325.13 263.36,323.98 264.34,322.78 265.32,321.49 266.31,320.19 267.29,318.92 268.27,317.75 269.26,316.6 270.24,315.46 271.23,314.42 272.21,313.58 273.19,312.91 274.18,312.34 275.16,311.86 276.14,311.49 277.13,311.22 278.11,311.01 279.1,310.86 280.08,310.74 281.06,310.63 282.05,310.52 283.03,310.39 284.01,310.25 285,310.12 285.98,310 286.97,309.88 287.95,309.75 288.93,309.61 289.92,309.46 290.9,309.3 291.88,309.11 292.87,308.92 293.85,308.71 294.84,308.5 295.82,308.27 296.8,308.04 297.79,307.8 298.77,307.55 299.75,307.29 300.74,307.02 301.72,306.75 302.71,306.47 303.69,306.18 304.67,305.89 305.66,305.58 306.64,305.27 307.62,304.96 308.61,304.64 309.59,304.31 310.58,303.97 311.56,303.63 312.54,303.28 313.53,302.92 314.51,302.55 315.5,302.17 316.48,301.79 317.46,301.39 318.45,300.99 319.43,300.58 320.41,300.17 321.4,299.75 322.38,299.32 323.37,298.89 324.35,298.46 325.33,298.02 326.32,297.57 327.3,297.13 328.28,296.68 329.27,296.22 330.25,295.77 331.24,295.31 332.22,294.84 333.2,294.36 334.19,293.87 335.17,293.37 336.15,292.86 337.14,292.34 338.12,291.81 339.11,291.27 340.09,290.72 341.07,290.17 342.06,289.6 343.04,289.03 344.02,288.45 345.01,287.87 345.99,287.27 346.98,286.68 347.96,286.07 348.94,285.47 349.93,284.86 350.91,284.24 351.89,283.62 352.88,283 353.86,282.36 354.85,281.73 355.83,281.08 356.81,280.42 357.8,279.76 358.78,279.09 359.76,278.4 360.75,277.71 361.73,277.01 362.72,276.29 363.7,275.56 364.68,274.83 365.67,274.07 366.65,273.31 367.64,272.53 368.62,271.73 369.6,270.92 370.59,270.1 371.57,269.24 372.55,268.36 373.54,267.44 374.52,266.5 375.51,265.54 376.49,264.55 377.47,263.53 378.46,262.5 379.44,261.44 380.42,260.36 381.41,259.27 382.39,258.16 383.38,257.04 384.36,255.91 385.34,254.77 386.33,253.62 387.31,252.47 388.29,251.31 389.28,250.15 390.26,249 391.25,247.84 392.23,246.66 393.21,245.47 394.2,244.27 395.18,243.05 396.16,241.82 397.15,240.58 398.13,239.32 399.12,238.06 400.1,236.78 401.08,235.5 402.07,234.2 403.05,232.9 404.03,231.59 405.02,230.26 406,228.94 406.99,227.6 407.97,226.26 408.95,224.91 409.94,223.56 410.92,222.21 411.9,220.84 412.89,219.48 413.87,218.11 414.86,216.74 415.84,215.37 415.84,282.89 414.86,283.22 413.87,283.55 412.89,283.9 411.9,284.24 410.92,284.59 409.94,284.95 408.95,285.31 407.97,285.67 406.99,286.04 406,286.4 405.02,286.77 404.03,287.14 403.05,287.51 402.07,287.89 401.08,288.26 400.1,288.63 399.12,288.99 398.13,289.36 397.15,289.72 396.16,290.08 395.18,290.44 394.2,290.79 393.21,291.13 392.23,291.48 391.25,291.81 390.26,292.14 389.28,292.46 388.29,292.77 387.31,293.08 386.33,293.38 385.34,293.68 384.36,293.97 383.38,294.25 382.39,294.54 381.41,294.82 380.42,295.1 379.44,295.39 378.46,295.67 377.47,295.95 376.49,296.24 375.51,296.53 374.52,296.83 373.54,297.13 372.55,297.43 371.57,297.74 370.59,298.06 369.6,298.38 368.62,298.7 367.64,299.02 366.65,299.34 365.67,299.66 364.68,299.98 363.7,300.3 362.72,300.61 361.73,300.93 360.75,301.25 359.76,301.57 358.78,301.88 357.8,302.2 356.81,302.51 355.83,302.83 354.85,303.14 353.86,303.45 352.88,303.77 351.89,304.08 350.91,304.39 349.93,304.7 348.94,305.01 347.96,305.31 346.98,305.61 345.99,305.91 345.01,306.21 344.02,306.5 343.04,306.79 342.06,307.09 341.07,307.38 340.09,307.67 339.11,307.97 338.12,308.26 337.14,308.56 336.15,308.86 335.17,309.16 334.19,309.46 333.2,309.77 332.22,310.08 331.24,310.39 330.25,310.7 329.27,311.02 328.28,311.34 327.3,311.66 326.32,311.99 325.33,312.31 324.35,312.63 323.37,312.95 322.38,313.27 321.4,313.58 320.41,313.9 319.43,314.21 318.45,314.52 317.46,314.82 316.48,315.12 315.5,315.41 314.51,315.7 313.53,315.99 312.54,316.26 311.56,316.53 310.58,316.8 309.59,317.06 308.61,317.32 307.62,317.59 306.64,317.86 305.66,318.12 304.67,318.38 303.69,318.64 302.71,318.9 301.72,319.16 300.74,319.41 299.75,319.66 298.77,319.9 297.79,320.14 296.8,320.37 295.82,320.6 294.84,320.82 293.85,321.03 292.87,321.23 291.88,321.43 290.9,321.61 289.92,321.79 288.93,321.96 287.95,322.13 286.97,322.29 285.98,322.44 285,322.59 284.01,322.74 283.03,322.89 282.05,323.03 281.06,323.17 280.08,323.3 279.1,323.43 278.11,323.56 277.13,323.7 276.14,323.84 275.16,324 274.18,324.21 273.19,324.47 272.21,324.73 271.23,325.04 270.24,325.42 269.26,325.84 268.27,326.26 267.29,326.66 266.31,327.04 265.32,327.41 264.34,327.74 263.36,328.01 262.37,328.18 261.39,328.26 260.4,328.32 259.42,328.41" fill="#fef6e5"/><line x1="251.5" y1="326.62" x2="449.5" y2="326.62" stroke="#505050" stroke-width="0.9" stroke-dasharray="1.36 1.36"/><polyline points="259.42,328.41 260.4,327.85 261.39,327.29 262.37,326.72 263.36,326.11 264.34,325.42 265.32,324.67 266.31,323.9 267.29,323.14 268.27,322.41 269.26,321.68 270.24,320.96 271.23,320.31 272.21,319.78 273.19,319.34 274.18,318.96 275.16,318.63 276.14,318.38 277.13,318.19 278.11,318.02 279.1,317.88 280.08,317.75 281.06,317.62 282.05,317.49 283.03,317.35 284.01,317.2 285,317.06 285.98,316.91 286.97,316.77 287.95,316.62 288.93,316.46 289.92,316.29 290.9,316.12 291.88,315.93 292.87,315.73 293.85,315.52 294.84,315.3 295.82,315.07 296.8,314.84 297.79,314.6 298.77,314.35 299.75,314.1 300.74,313.84 301.72,313.57 302.71,313.3 303.69,313.02 304.67,312.74 305.66,312.46 306.64,312.17 307.62,311.88 308.61,311.59 309.59,311.29 310.58,310.99 311.56,310.69 312.54,310.38 313.53,310.07 314.51,309.74 315.5,309.41 316.48,309.07 317.46,308.73 318.45,308.38 319.43,308.03 320.41,307.67 321.4,307.3 322.38,306.94 323.37,306.57 324.35,306.19 325.33,305.82 326.32,305.44 327.3,305.06 328.28,304.68 329.27,304.3 330.25,303.92 331.24,303.54 332.22,303.16 333.2,302.77 334.19,302.38 335.17,301.99 336.15,301.6 337.14,301.2 338.12,300.8 339.11,300.4 340.09,300 341.07,299.59 342.06,299.18 343.04,298.77 344.02,298.35 345.01,297.93 345.99,297.51 346.98,297.08 347.96,296.65 348.94,296.22 349.93,295.78 350.91,295.34 351.89,294.89 352.88,294.45 353.86,294 354.85,293.55 355.83,293.09 356.81,292.63 357.8,292.17 358.78,291.7 359.76,291.23 360.75,290.75 361.73,290.27 362.72,289.79 363.7,289.3 364.68,288.8 365.67,288.3 366.65,287.8 367.64,287.29 368.62,286.77 369.6,286.24 370.59,285.72 371.57,285.18 372.55,284.63 373.54,284.08 374.52,283.52 375.51,282.96 376.49,282.38 377.47,281.81 378.46,281.22 379.44,280.63 380.42,280.03 381.41,279.43 382.39,278.82 383.38,278.21 384.36,277.59 385.34,276.97 386.33,276.34 387.31,275.71 388.29,275.07 389.28,274.43 390.26,273.79 391.25,273.14 392.23,272.47 393.21,271.81 394.2,271.13 395.18,270.44 396.16,269.75 397.15,269.05 398.13,268.35 399.12,267.63 400.1,266.92 401.08,266.2 402.07,265.48 403.05,264.75 404.03,264.02 405.02,263.29 406,262.56 406.99,261.83 407.97,261.1 408.95,260.37 409.94,259.64 410.92,258.91 411.9,258.18 412.89,257.46 413.87,256.73 414.86,256.02 415.84,255.3" fill="none" stroke="#ecbf5a" stroke-width="0.85"/><path d="M251.5 201.5V344.5H449.5M249.3 344.5H251.5M249.3 308.75H251.5M249.3 273H251.5M249.3 237.25H251.5M249.3 201.5H251.5M251.5 344.5V346.7M291.1 344.5V346.7M330.7 344.5V346.7M370.3 344.5V346.7M409.9 344.5V346.7M449.5 344.5V346.7" fill="none" stroke="#949494" stroke-width="1.2"/><text transform="translate(248.2 346.6) scale(0.92 1)" text-anchor="end" class="t">0</text><text transform="translate(248.2 310.85) scale(0.92 1)" text-anchor="end" class="t">2</text><text transform="translate(248.2 275.1) scale(0.92 1)" text-anchor="end" class="t">4</text><text transform="translate(248.2 239.35) scale(0.92 1)" text-anchor="end" class="t">6</text><text transform="translate(248.2 203.6) scale(0.92 1)" text-anchor="end" class="t">8</text><text transform="translate(251.5 352.2) scale(0.92 1)" text-anchor="middle" class="t">0</text><text transform="translate(291.1 352.2) scale(0.92 1)" text-anchor="middle" class="t">1</text><text transform="translate(330.7 352.2) scale(0.92 1)" text-anchor="middle" class="t">2</text><text transform="translate(370.3 352.2) scale(0.92 1)" text-anchor="middle" class="t">3</text><text transform="translate(409.9 352.2) scale(0.92 1)" text-anchor="middle" class="t">4</text><text transform="translate(449.5 352.2) scale(0.92 1)" text-anchor="middle" class="t">5</text><text transform="translate(350.5 359.8) scale(0.9 1)" text-anchor="middle" class="lar">LAR</text><text transform="translate(241.7 273) rotate(-90)" text-anchor="middle" class="yl">Hazard ratio (95% CI)</text><text transform="translate(343.5 196.9) scale(0.95 1)" text-anchor="middle" class="ti">Model 4</text><text transform="translate(262.3 213.9) scale(0.92 1)" class="pn">P for nonlinear = 0.104</text><text transform="translate(233.2 193.8)" class="lt">E</text></g><g><polygon points="489.61,318.19 490.59,316.8 491.58,315.35 492.56,313.84 493.54,312.3 494.53,310.62 495.51,308.79 496.49,306.95 497.47,305.24 498.46,303.73 499.44,302.31 500.42,301.03 501.41,299.89 502.39,298.85 503.37,298.03 504.35,297.49 505.34,297.02 506.32,296.66 507.3,296.47 508.28,296.46 509.27,296.51 510.25,296.6 511.23,296.69 512.22,296.79 513.2,296.86 514.18,296.9 515.16,296.93 516.15,296.96 517.13,296.98 518.11,296.99 519.1,296.99 520.08,296.99 521.06,296.98 522.04,296.97 523.03,296.95 524.01,296.91 524.99,296.86 525.97,296.79 526.96,296.71 527.94,296.62 528.92,296.52 529.91,296.41 530.89,296.28 531.87,296.14 532.85,295.99 533.84,295.84 534.82,295.67 535.8,295.49 536.79,295.29 537.77,295.09 538.75,294.88 539.73,294.66 540.72,294.43 541.7,294.19 542.68,293.93 543.66,293.66 544.65,293.37 545.63,293.07 546.61,292.77 547.6,292.45 548.58,292.12 549.56,291.78 550.54,291.44 551.53,291.1 552.51,290.75 553.49,290.39 554.48,290.04 555.46,289.68 556.44,289.33 557.42,288.97 558.41,288.62 559.39,288.28 560.37,287.93 561.35,287.6 562.34,287.25 563.32,286.89 564.3,286.51 565.29,286.13 566.27,285.73 567.25,285.32 568.23,284.9 569.22,284.47 570.2,284.03 571.18,283.58 572.17,283.13 573.15,282.66 574.13,282.19 575.11,281.7 576.1,281.22 577.08,280.73 578.06,280.23 579.04,279.73 580.03,279.22 581.01,278.71 581.99,278.19 582.98,277.66 583.96,277.12 584.94,276.57 585.92,276 586.91,275.43 587.89,274.84 588.87,274.25 589.86,273.65 590.84,273.05 591.82,272.43 592.8,271.82 593.79,271.19 594.77,270.56 595.75,269.93 596.74,269.29 597.72,268.65 598.7,268 599.68,267.35 600.67,266.68 601.65,266.01 602.63,265.32 603.61,264.62 604.6,263.9 605.58,263.17 606.56,262.43 607.55,261.68 608.53,260.91 609.51,260.14 610.49,259.35 611.48,258.56 612.46,257.75 613.44,256.93 614.43,256.11 615.41,255.27 616.39,254.43 617.37,253.59 618.36,252.73 619.34,251.88 620.32,251.01 621.3,250.14 622.29,249.24 623.27,248.32 624.25,247.39 625.24,246.45 626.22,245.49 627.2,244.53 628.18,243.55 629.17,242.57 630.15,241.59 631.13,240.6 632.12,239.62 633.1,238.63 634.08,237.65 635.06,236.67 636.05,235.7 637.03,234.73 638.01,233.75 638.99,232.77 639.98,231.79 640.96,230.81 641.94,229.82 642.93,228.82 643.91,227.82 644.89,226.81 645.87,225.8 645.87,290.09 644.89,290.26 643.91,290.44 642.93,290.62 641.94,290.8 640.96,290.98 639.98,291.17 638.99,291.35 638.01,291.54 637.03,291.73 636.05,291.92 635.06,292.12 634.08,292.32 633.1,292.52 632.12,292.74 631.13,292.95 630.15,293.17 629.17,293.39 628.18,293.61 627.2,293.83 626.22,294.04 625.24,294.26 624.25,294.47 623.27,294.68 622.29,294.87 621.3,295.07 620.32,295.25 619.34,295.43 618.36,295.59 617.37,295.76 616.39,295.91 615.41,296.07 614.43,296.22 613.44,296.36 612.46,296.51 611.48,296.65 610.49,296.79 609.51,296.93 608.53,297.07 607.55,297.21 606.56,297.36 605.58,297.5 604.6,297.65 603.61,297.81 602.63,297.97 601.65,298.13 600.67,298.3 599.68,298.48 598.7,298.66 597.72,298.84 596.74,299.02 595.75,299.21 594.77,299.4 593.79,299.6 592.8,299.79 591.82,299.99 590.84,300.2 589.86,300.4 588.87,300.6 587.89,300.81 586.91,301.01 585.92,301.22 584.94,301.42 583.96,301.62 582.98,301.81 581.99,302 581.01,302.19 580.03,302.37 579.04,302.55 578.06,302.72 577.08,302.88 576.1,303.04 575.11,303.19 574.13,303.34 573.15,303.49 572.17,303.64 571.18,303.8 570.2,303.95 569.22,304.11 568.23,304.27 567.25,304.43 566.27,304.6 565.29,304.78 564.3,304.97 563.32,305.17 562.34,305.37 561.35,305.59 560.37,305.82 559.39,306.05 558.41,306.29 557.42,306.53 556.44,306.77 555.46,307.01 554.48,307.25 553.49,307.5 552.51,307.74 551.53,307.98 550.54,308.22 549.56,308.45 548.58,308.68 547.6,308.9 546.61,309.12 545.63,309.33 544.65,309.54 543.66,309.73 542.68,309.92 541.7,310.09 540.72,310.26 539.73,310.43 538.75,310.61 537.77,310.8 536.79,310.99 535.8,311.18 534.82,311.38 533.84,311.58 532.85,311.78 531.87,311.97 530.89,312.16 529.91,312.35 528.92,312.53 527.94,312.71 526.96,312.87 525.97,313.03 524.99,313.17 524.01,313.3 523.03,313.42 522.04,313.52 521.06,313.61 520.08,313.69 519.1,313.77 518.11,313.85 517.13,313.92 516.15,313.99 515.16,314.05 514.18,314.1 513.2,314.13 512.22,314.15 511.23,314.16 510.25,314.16 509.27,314.16 508.28,314.16 507.3,314.18 506.32,314.24 505.34,314.32 504.35,314.42 503.37,314.55 502.39,314.8 501.41,315.1 500.42,315.39 499.44,315.74 498.46,316.14 497.47,316.54 496.49,316.96 495.51,317.4 494.53,317.81 493.54,318.11 492.56,318.23 491.58,318.23 490.59,318.19 489.61,318.19" fill="#fef6e5"/><line x1="481.7" y1="315.9" x2="679.5" y2="315.9" stroke="#505050" stroke-width="0.9" stroke-dasharray="1.36 1.36"/><polyline points="489.61,318.19 490.59,317.5 491.58,316.83 492.56,316.12 493.54,315.35 494.53,314.43 495.51,313.39 496.49,312.34 497.47,311.37 498.46,310.49 499.44,309.67 500.42,308.93 501.41,308.28 502.39,307.68 503.37,307.2 504.35,306.9 505.34,306.65 506.32,306.45 507.3,306.34 508.28,306.32 509.27,306.34 510.25,306.38 511.23,306.42 512.22,306.45 513.2,306.46 514.18,306.46 515.16,306.44 516.15,306.41 517.13,306.38 518.11,306.34 519.1,306.29 520.08,306.24 521.06,306.19 522.04,306.13 523.03,306.05 524.01,305.97 524.99,305.86 525.97,305.75 526.96,305.62 527.94,305.48 528.92,305.34 529.91,305.18 530.89,305.01 531.87,304.84 532.85,304.66 533.84,304.47 534.82,304.28 535.8,304.09 536.79,303.89 537.77,303.69 538.75,303.49 539.73,303.29 540.72,303.1 541.7,302.89 542.68,302.68 543.66,302.46 544.65,302.22 545.63,301.97 546.61,301.72 547.6,301.45 548.58,301.18 549.56,300.91 550.54,300.62 551.53,300.34 552.51,300.05 553.49,299.75 554.48,299.46 555.46,299.17 556.44,298.87 557.42,298.58 558.41,298.29 559.39,298 560.37,297.72 561.35,297.45 562.34,297.17 563.32,296.9 564.3,296.62 565.29,296.35 566.27,296.08 567.25,295.81 568.23,295.53 569.22,295.26 570.2,294.98 571.18,294.7 572.17,294.42 573.15,294.14 574.13,293.86 575.11,293.57 576.1,293.28 577.08,292.98 578.06,292.68 579.04,292.37 580.03,292.06 581.01,291.74 581.99,291.42 582.98,291.08 583.96,290.75 584.94,290.4 585.92,290.05 586.91,289.69 587.89,289.33 588.87,288.97 589.86,288.6 590.84,288.24 591.82,287.87 592.8,287.5 593.79,287.13 594.77,286.76 595.75,286.39 596.74,286.02 597.72,285.65 598.7,285.28 599.68,284.91 600.67,284.54 601.65,284.17 602.63,283.8 603.61,283.43 604.6,283.05 605.58,282.68 606.56,282.3 607.55,281.92 608.53,281.54 609.51,281.15 610.49,280.76 611.48,280.37 612.46,279.97 613.44,279.57 614.43,279.17 615.41,278.76 616.39,278.35 617.37,277.93 618.36,277.51 619.34,277.08 620.32,276.65 621.3,276.2 622.29,275.74 623.27,275.28 624.25,274.8 625.24,274.31 626.22,273.82 627.2,273.32 628.18,272.82 629.17,272.32 630.15,271.82 631.13,271.32 632.12,270.82 633.1,270.32 634.08,269.83 635.06,269.35 636.05,268.87 637.03,268.39 638.01,267.91 638.99,267.44 639.98,266.97 640.96,266.5 641.94,266.02 642.93,265.55 643.91,265.08 644.89,264.61 645.87,264.13" fill="none" stroke="#ecbf5a" stroke-width="0.85"/><path d="M481.7 201.5V344.5H679.5M479.5 344.5H481.7M479.5 315.9H481.7M479.5 287.3H481.7M479.5 258.7H481.7M479.5 230.1H481.7M479.5 201.5H481.7M481.7 344.5V346.7M521.26 344.5V346.7M560.82 344.5V346.7M600.38 344.5V346.7M639.94 344.5V346.7M679.5 344.5V346.7" fill="none" stroke="#949494" stroke-width="1.2"/><text transform="translate(478.4 346.6) scale(0.92 1)" text-anchor="end" class="t">0</text><text transform="translate(478.4 318) scale(0.92 1)" text-anchor="end" class="t">1</text><text transform="translate(478.4 289.4) scale(0.92 1)" text-anchor="end" class="t">2</text><text transform="translate(478.4 260.8) scale(0.92 1)" text-anchor="end" class="t">3</text><text transform="translate(478.4 232.2) scale(0.92 1)" text-anchor="end" class="t">4</text><text transform="translate(478.4 203.6) scale(0.92 1)" text-anchor="end" class="t">5</text><text transform="translate(481.7 352.2) scale(0.92 1)" text-anchor="middle" class="t">0</text><text transform="translate(521.26 352.2) scale(0.92 1)" text-anchor="middle" class="t">1</text><text transform="translate(560.82 352.2) scale(0.92 1)" text-anchor="middle" class="t">2</text><text transform="translate(600.38 352.2) scale(0.92 1)" text-anchor="middle" class="t">3</text><text transform="translate(639.94 352.2) scale(0.92 1)" text-anchor="middle" class="t">4</text><text transform="translate(679.5 352.2) scale(0.92 1)" text-anchor="middle" class="t">5</text><text transform="translate(580.6 359.8) scale(0.9 1)" text-anchor="middle" class="lar">LAR</text><text transform="translate(471.7 273) rotate(-90)" text-anchor="middle" class="yl">Hazard ratio (95% CI)</text><text transform="translate(573.5 196.9) scale(0.95 1)" text-anchor="middle" class="ti">Model 5</text><text transform="translate(492.9 213.9) scale(0.92 1)" class="pn">P for nonlinear = 0.205</text><text transform="translate(463.2 193.8)" class="lt">F</text></g></g></svg>
</body></html>
